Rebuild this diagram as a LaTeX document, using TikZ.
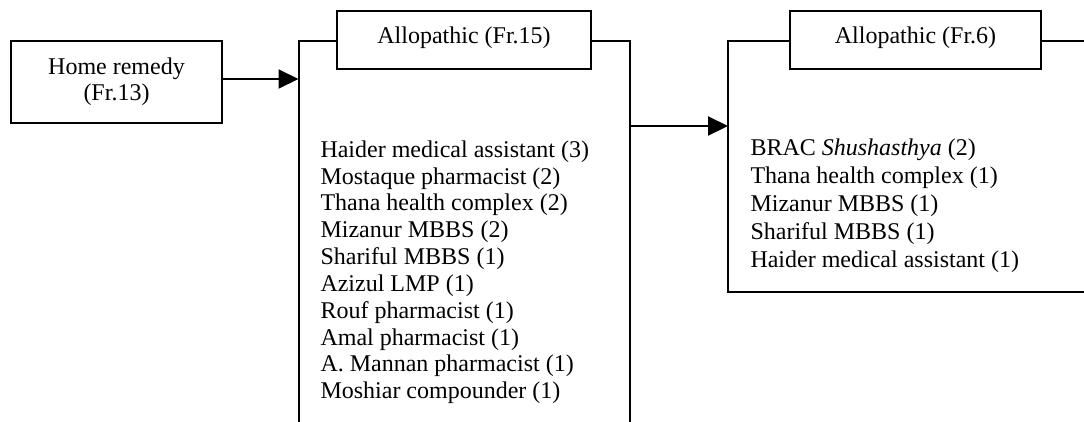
\documentclass[tikz,border=0pt]{standalone}
\usepackage{fontspec}
\setmainfont{Liberation Serif}
\usetikzlibrary{arrows.meta}
\begin{document}
\begin{tikzpicture}[x=1pt,y=-1pt,
  line width=2pt,
  framebox/.style={draw, rectangle, inner sep=0pt, font=\fontsize{24pt}{26.8pt}\selectfont, align=center},
  titlebox/.style={framebox, minimum height=58pt, text height=16.4pt, text depth=8.8pt},
  listtext/.style={inner sep=0pt, anchor=north west, align=left},
  arr/.style={-{Triangle[length=20pt,width=19pt]}}
]
\useasboundingbox (0,0) rectangle (1084,421);
\clip (0,0) rectangle (1084,421);

% home remedy
\node[framebox, minimum width=211pt, minimum height=81.5pt] (home) at (116.5,81.8) {Home remedy\\(Fr.13)};

% first allopathic container
\node[titlebox, minimum width=254pt] (t1) at (464,40) {Allopathic (Fr.15)};
\coordinate (b1nw) at (298.5,41);
\coordinate (b1ne) at (630,41);
\coordinate (b1sw) at (298.5,440);
\coordinate (b1se) at (630,440);
\coordinate (b1w) at (298.5,79);
\coordinate (b1e) at (630,126);
\draw (t1.west |- b1nw) -- (b1nw) -- (b1sw);
\draw (t1.east |- b1ne) -- (b1ne) -- (b1se);
\node[listtext, font=\fontsize{24pt}{26.85pt}\selectfont] (l1) at (319.5,139.5) {Haider medical assistant (3)\\
Mostaque pharmacist (2)\\
Thana health complex (2)\\
Mizanur MBBS (2)\\
Shariful MBBS (1)\\
Azizul LMP (1)\\
Rouf pharmacist (1)\\
Amal pharmacist (1)\\
A. Mannan pharmacist (1)\\
Moshiar compounder (1)};

% second allopathic container
\node[titlebox, minimum width=251pt] (t2) at (915.5,40) {Allopathic (Fr.6)};
\coordinate (b2nw) at (728,41);
\coordinate (b2ne) at (1100,41);
\coordinate (b2sw) at (728,291.5);
\coordinate (b2se) at (1100,291.5);
\coordinate (b2w) at (728,126);
\draw (t2.west |- b2nw) -- (b2nw) -- (b2sw) -- (b2se);
\draw (t2.east |- b2ne) -- (b2ne);
\node[listtext, font=\fontsize{24pt}{27.9pt}\selectfont] (l2) at (749.5,138) {BRAC \textit{Shushasthya} (2)\\
Thana health complex (1)\\
Mizanur MBBS (1)\\
Shariful MBBS (1)\\
Haider medical assistant (1)};

% connectors
\draw[arr] ([yshift=2.8pt]home.east) -- (b1w);
\draw[arr] (b1e) -- (b2w);
\end{tikzpicture}
\end{document}
